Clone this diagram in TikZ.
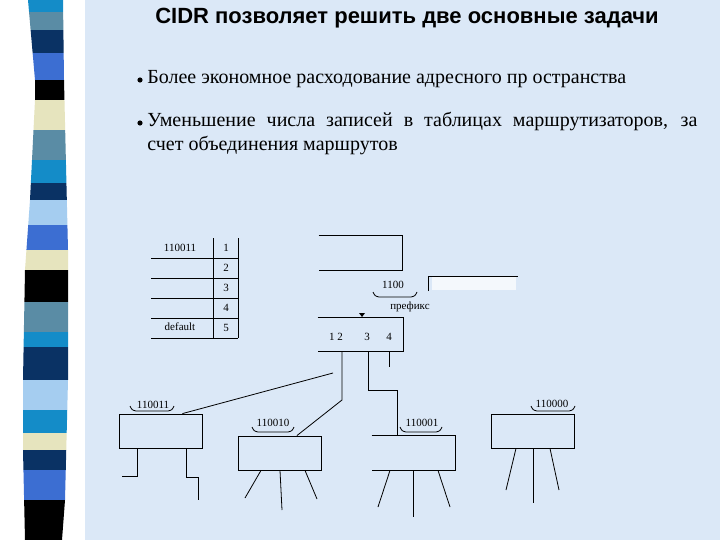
\documentclass[tikz,border=0pt]{standalone}
\usepackage{fontspec}
\setmainfont{Liberation Serif}
\newfontfamily\titlefont{Liberation Sans}
\usetikzlibrary{positioning}

\definecolor{slide}{RGB}{219,232,247}
\definecolor{stcyan}{RGB}{20,140,200}
\definecolor{ststeel}{RGB}{90,140,165}
\definecolor{stnavy}{RGB}{10,50,100}
\definecolor{stroyal}{RGB}{60,110,210}
\definecolor{stbeige}{RGB}{230,228,190}
\definecolor{stlight}{RGB}{165,205,240}

\newcommand{\pfxbrace}[3]{% x1, x2, y
  \draw (#1-2,#3-5) .. controls (#1,#3-1) .. (#1+4,#3) -- (#2-4,#3)
    .. controls (#2,#3-1) .. (#2+2,#3-5);}

\begin{document}
\begin{tikzpicture}[
  x=1pt, y=-1pt, line width=0.8pt,
  router/.style={minimum width=83pt, minimum height=34pt, inner sep=0pt},
  box/.style={router, draw},
  lbl/.style={font=\fontsize{11}{12}\selectfont, inner sep=1pt},
  bul/.style={font=\fontsize{20}{24}\selectfont, anchor=base west, inner sep=0pt}]
  \useasboundingbox (0,0) rectangle (720,540);
  % --- background ---
  \fill[white] (0,0) rectangle (85,540);
  \fill[slide] (85,0) rectangle (720,540);
  \begin{scope}
    \clip (28,0) -- (35,80) -- (35,100) -- (30,200) -- (25,270) -- (23,380)
      -- (23,450) -- (25,540) -- (62,540) -- (65,500) -- (68,380) -- (68,250)
      -- (64,80) -- (63,0) -- cycle;
    \foreach \ya/\yb/\c in {0/12/stcyan, 12/30/ststeel, 30/53/stnavy, 53/80/stroyal,
      80/100/black, 100/130/stbeige, 130/160/ststeel, 160/183/stcyan, 183/200/stnavy,
      200/225/stlight, 225/250/stroyal, 250/270/stbeige, 270/302/black,
      302/332/ststeel, 332/347/stcyan, 347/380/stnavy, 380/410/stlight,
      410/433/stcyan, 433/450/stbeige, 450/470/stnavy, 470/500/stroyal, 500/540/black}
      \fill[\c] (20,\ya) rectangle (70,\yb);
  \end{scope}
  % --- title and bullets ---
  \node[font=\titlefont\bfseries\fontsize{22}{24}\selectfont] (title) at (407,18)
    {CIDR позволяет решить две основные задачи};
  \fill (140,80) circle (2.6);
  \fill (140,123) circle (2.6);
  \node[bul] (b1) at (147,84) {Более экономное расходование адресного пр остранства};
  \node[bul] (b2) at (147,127)
    {\makebox[550pt][s]{Уменьшение числа записей в таблицах маршрутизаторов, за}};
  \node[bul] (b3) at (147,151) {счет объединения маршрутов};
  % --- routing table ---
  \draw (213,238) -- (213,338);
  \draw (238,238) -- (238,338);
  \foreach \y in {258,278,298,318,338}
    \draw (151,\y) -- (238,\y);
  \node[lbl] (net1) at (180,248) {110011};
  \node[lbl] (netd) at (180,327) {default};
  \foreach \n in {1,...,5}
    \node[lbl] (row\n) at (226,{228+20*\n}) {\n};
  % --- upper router ---
  \node[router] (upper) at (360.5,253) {};
  \draw (upper.north west) -- (upper.north east) -- (upper.south east) -- (upper.south west);
  \fill[white, opacity=0.7] (432,277) rectangle (516,290);
  \draw (428,291) -- (428,276) -- (518,276);
  \node[lbl] (pfx) at (393,285) {1100};
  \pfxbrace{375}{415}{297}
  \node[lbl] (pfxname) at (410,307) {префикс};
  \fill (359,313) -- (365,313) -- (362,317) -- cycle;
  % --- main router ---
  \node[router, minimum width=85pt, minimum height=33pt] (main) at (360.5,334.5) {};
  \draw (main.north west) -- (main.north east) -- (main.south east) -- (main.south west);
  \node[lbl] (p12) at (336,337) {1 2};
  \node[lbl] (p3) at (367,337) {3};
  \node[lbl] (p4) at (389,337) {4};
  % --- customer routers ---
  \node[box] (ra) at (160.5,431) {};
  \node[box] (rb) at (280,453) {};
  \node[router] (rc) at (413.5,453) {};
  \draw (rc.north west) -- (rc.north east) -- (rc.south east) -- (rc.south west);
  \node[box] (rd) at (532.5,431) {};
  \node[lbl] (la) at (153,405) {110011};
  \pfxbrace{132}{172}{411}
  \node[lbl] (lb) at (273,423) {110010};
  \pfxbrace{254}{292}{432}
  \node[lbl] (lc) at (422,423) {110001};
  \pfxbrace{402}{440}{432}
  \node[lbl] (ld) at (552,404) {110000};
  \pfxbrace{533}{573}{411}
  % --- links ---
  \coordinate (tail) at (333,373);
  \draw (tail) -- ([xshift=-20pt]ra.north east);
  \draw (main.south west -| 342,0) -- (342,400) -- ([xshift=-25pt]rb.north east);
  \draw (main.south west -| 368,0) -- (368,390) -- (397,390) -- (rc.north west -| 397,0);
  \draw (main.south west -| 389,0) -- (389,367);
  % --- legs ---
  \draw (ra.south west -| 137,0) -- (137,476) -- (122,476);
  \draw (ra.south west -| 186,0) -- (186,477) -- (198,477) -- (198,500);
  \draw (rb.south west -| 261,0) -- (245,498);
  \draw (rb.south) -- (282,510);
  \draw (rb.south west -| 305,0) -- (317,499);
  \draw (rc.south west -| 390,0) -- (378,507);
  \draw (rc.south west -| 413,0) -- (413,517);
  \draw (rc.south west -| 438,0) -- (450,507);
  \draw (rd.south west -| 516,0) -- (506,490);
  \draw (rd.south west -| 533,0) -- (533,503);
  \draw (rd.south west -| 550,0) -- (559,490);
\end{tikzpicture}
\end{document}
